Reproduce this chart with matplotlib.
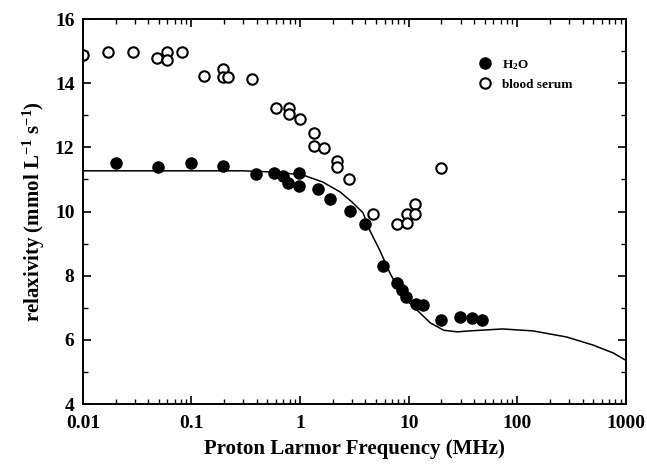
import numpy as np
import matplotlib
matplotlib.use('Agg')
import matplotlib.pyplot as plt
from matplotlib.ticker import FixedLocator, NullFormatter, LogLocator

plt.rcParams['font.family'] = 'Liberation Serif'
plt.rcParams['font.weight'] = 'bold'
plt.rcParams['mathtext.default'] = 'regular'

# H2O relaxivity (filled circles)
h2o_freq = [0.020, 0.049, 0.099, 0.194, 0.39, 0.57, 0.69, 0.78, 0.98, 0.98,
            1.45, 1.88, 2.87, 3.97, 5.8, 7.8, 8.7, 9.4, 11.6, 13.5,
            19.8, 29.4, 38.1, 47.3]
h2o_relax = [11.51, 11.39, 11.51, 11.42, 11.17, 11.20, 11.11, 10.89, 11.20, 10.80,
             10.70, 10.39, 10.02, 9.61, 8.31, 7.78, 7.56, 7.34, 7.12, 7.09,
             6.62, 6.72, 6.69, 6.62]

# blood serum relaxivity (open circles)
serum_freq = [0.010, 0.017, 0.029, 0.048, 0.059, 0.059, 0.081, 0.13, 0.194, 0.194,
              0.216, 0.36, 0.60, 0.79, 0.79, 0.99, 1.34, 1.34, 1.67, 2.18,
              2.18, 2.83, 4.66, 7.8, 9.65, 9.65, 11.4, 11.4, 19.8]
serum_relax = [14.88, 14.97, 14.97, 14.79, 14.97, 14.72, 14.97, 14.22, 14.44, 14.19,
               14.19, 14.13, 13.23, 13.23, 13.04, 12.88, 12.45, 12.05, 11.98, 11.58,
               11.39, 11.01, 9.92, 9.61, 9.92, 9.65, 10.23, 9.92, 11.36]

# fitted curve
fit_freq = [0.01, 0.1, 0.3, 0.6, 1.06, 1.62, 2.34, 3.0, 3.8, 4.4, 5.4, 6.7,
            8.3, 10.2, 12.6, 15.8, 21, 28, 36.5, 73, 139, 284, 496, 765, 1000]
fit_relax = [11.27, 11.27, 11.27, 11.23, 11.14, 10.92, 10.61, 10.30, 9.96, 9.40, 8.80, 8.09,
             7.50, 7.15, 6.85, 6.53, 6.30, 6.25, 6.28, 6.34, 6.28, 6.09, 5.84, 5.59, 5.36]

fig = plt.figure(figsize=(6.47, 4.66), dpi=100)
ax = fig.add_axes([0.128, 0.133, 0.8395, 0.826])

ax.plot(fit_freq, fit_relax, color='black', lw=1.1, zorder=1)
ax.plot(h2o_freq, h2o_relax, 'o', color='black', ms=8, zorder=3, label='H$_2$O')
ax.plot(serum_freq, serum_relax, 'o', mfc='white', mec='black', mew=1.5, ms=7.5,
        zorder=2, label='blood serum')

ax.set_xscale('log')
ax.set_xlim(0.01, 1000)
ax.set_ylim(4, 16)
ax.set_xticks([0.01, 0.1, 1, 10, 100, 1000])
ax.set_xticklabels(['0.01', '0.1', '1', '10', '100', '1000'])
ax.xaxis.set_minor_locator(LogLocator(base=10, subs=np.arange(2, 10)))
ax.xaxis.set_minor_formatter(NullFormatter())
ax.set_yticks([4, 6, 8, 10, 12, 14, 16])
ax.yaxis.set_minor_locator(FixedLocator([5, 7, 9, 11, 13, 15]))

ax.tick_params(which='both', direction='in', top=True, right=True, labelsize=14)
ax.tick_params(which='major', length=6, width=1.2)
ax.tick_params(which='minor', length=3.5, width=1.0)
ax.tick_params(axis='x', which='major', pad=8)
ax.tick_params(axis='y', which='major', pad=6)
for s in ax.spines.values():
    s.set_linewidth(1.4)

ax.set_xlabel('Proton Larmor Frequency (MHz)', fontsize=15, fontweight='bold', labelpad=5)
ax.set_ylabel('relaxivity (mmol L$^{-1}$ s$^{-1}$)', fontsize=15, fontweight='bold', labelpad=6)

leg = ax.legend(loc='upper left', bbox_to_anchor=(0.706, 0.93), frameon=False,
                prop={'size': 9.5, 'weight': 'bold'}, handletextpad=0.8,
                labelspacing=0.5, handlelength=1.0)

fig.savefig('out.png', dpi=100)
